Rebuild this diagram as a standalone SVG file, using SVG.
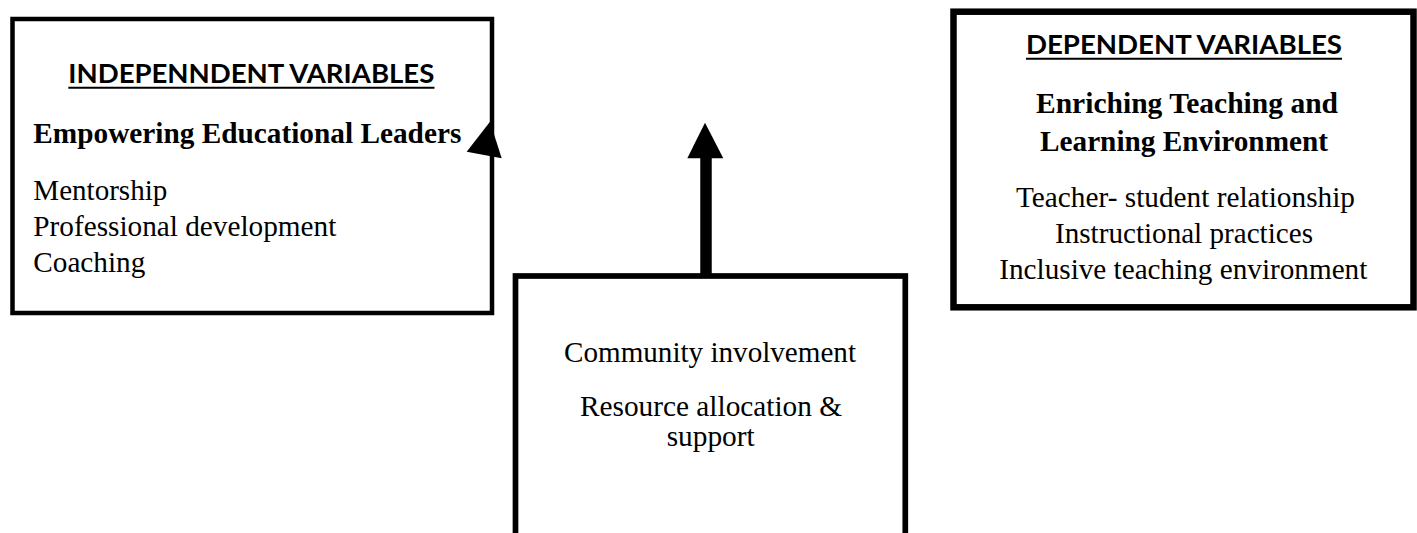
<svg xmlns="http://www.w3.org/2000/svg" width="1417" height="533" viewBox="0 0 1417 533">
<style>
.box{fill:#fff;stroke:#000}
.head{font-family:Lato,"Open Sans","Liberation Sans",sans-serif;font-weight:700;font-size:27.5px;fill:#000}
.sub{font-family:"Liberation Serif","Times New Roman",serif;font-weight:700;font-size:29px;fill:#000}
.item{font-family:"Liberation Serif","Times New Roman",serif;font-size:29px;fill:#000}
.ul{stroke:#000;stroke-width:2}
</style>
<rect width="1417" height="533" fill="#fff"/>
<g id="independent">
<rect class="box" x="12.5" y="19" width="479.5" height="294" stroke-width="4.5"/>
<text class="head" x="68.3" y="83" textLength="366" lengthAdjust="spacingAndGlyphs">INDEPENNDENT VARIABLES</text>
<line class="ul" x1="68.3" y1="87.8" x2="434.5" y2="87.8"/>
<text class="sub" x="33.3" y="143" textLength="428" lengthAdjust="spacingAndGlyphs">Empowering Educational Leaders</text>
<text class="item" x="33.3" y="200" textLength="134" lengthAdjust="spacingAndGlyphs">Mentorship</text>
<text class="item" x="33.3" y="236" textLength="303" lengthAdjust="spacingAndGlyphs">Professional development</text>
<text class="item" x="33.3" y="271.5" textLength="112" lengthAdjust="spacingAndGlyphs">Coaching</text>
</g>
<g id="dependent">
<rect class="box" x="953.5" y="11.7" width="460" height="295.6" stroke-width="6.5"/>
<text class="head" x="1026" y="53.5" textLength="316" lengthAdjust="spacingAndGlyphs">DEPENDENT VARIABLES</text>
<line class="ul" x1="1026" y1="58.8" x2="1342" y2="58.8"/>
<text class="sub" x="1036" y="113.3" textLength="302" lengthAdjust="spacingAndGlyphs">Enriching Teaching and</text>
<text class="sub" x="1040" y="150.7" textLength="288" lengthAdjust="spacingAndGlyphs">Learning Environment</text>
<text class="item" x="1016" y="206.7" textLength="339" lengthAdjust="spacingAndGlyphs">Teacher- student relationship</text>
<text class="item" x="1055" y="243.3" textLength="258" lengthAdjust="spacingAndGlyphs">Instructional practices</text>
<text class="item" x="999.3" y="279.3" textLength="368" lengthAdjust="spacingAndGlyphs">Inclusive teaching environment</text>
</g>
<g id="moderator">
<rect class="box" x="515.5" y="276" width="389.8" height="300" stroke-width="5.7"/>
<text class="item" x="564" y="361.7" textLength="292" lengthAdjust="spacingAndGlyphs">Community involvement</text>
<text class="item" x="580" y="416" textLength="262" lengthAdjust="spacingAndGlyphs">Resource allocation &amp;</text>
<text class="item" x="666.7" y="446" textLength="88" lengthAdjust="spacingAndGlyphs">support</text>
</g>
<g id="connectors">
<polygon points="490,121.7 466.7,151.7 501.7,158.3" fill="#000"/>
<line x1="706" y1="274" x2="706" y2="156" stroke="#000" stroke-width="11.5"/>
<polygon points="705,122.7 687.3,158.3 723.3,158.3" fill="#000"/>
</g>
</svg>
